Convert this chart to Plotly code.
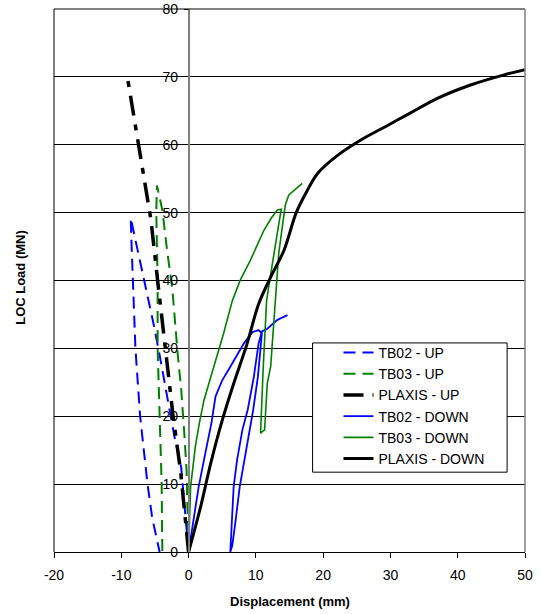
import plotly.graph_objects as go

# ---------------- data ----------------
tb02_up_x = [0, -0.4, -1.1, -2.1, -3.0, -4.3, -5.2, -6.7, -7.5, -8.4, -8.6, -8.5, -8.3, -7.9, -7.2, -6.1, -5.4, -4.3]
tb02_up_y = [0, 5, 12.5, 17, 22, 29, 33.6, 40.5, 44, 48, 49.2, 46, 40, 30, 20, 10, 5, 0]

tb03_up_x = [0, -0.1, -0.3, -0.6, -1.1, -1.6, -2.4, -3.2, -3.9, -4.7, -4.8, -4.7, -4.6, -4.6, -4.3, -4.0, -3.9]
tb03_up_y = [0, 5, 12, 17, 24, 29, 38.6, 44.5, 50.4, 54, 50, 45, 40, 30, 20, 10, 0]

plaxis_up_x = [0, -0.6, -1.2, -2.3, -3.0, -3.9, -4.6, -5.6, -7.5, -9.1]
plaxis_up_y = [0, 6, 12, 20, 26, 33, 40, 49, 60, 70]

tb02_down_x = [0, 0.7, 1.5, 2.5, 3.4, 4.0, 5.0, 6.2, 8.2, 9.5, 10.4, 10.9,
               10.6, 10.3, 9.6, 9.1, 8.4, 7.6, 7.0, 6.5, 6.2,
               6.4, 6.7, 7.2, 8.0, 8.8, 9.7, 10.4, 10.9, 11.7, 13.2, 14.7]
tb02_down_y = [0, 4.7, 9.6, 14.6, 19, 22.9, 25.3, 27.3, 30.7, 32.4, 32.7, 32.2,
               28.5, 25.8, 20.9, 18, 14.5, 9.6, 4.7, 1, 0,
               4.7, 9.6, 13.5, 18, 21, 25.8, 30.7, 32.5, 32.9, 34.2, 34.9]

tb03_down_x = [0, 0.3, 1.0, 1.6, 2.3, 3.8, 5.2, 6.5, 7.7, 9.2, 10.7, 11.2, 12.3, 13.2, 13.8,
               13.6, 12.7, 11.9, 11.6, 11.1, 10.8, 10.7,
               11.3, 11.7, 12.2, 12.9, 13.4, 14.2, 14.4, 14.9, 16.9]
tb03_down_y = [0, 9.6, 15.5, 19, 22.4, 27.3, 32.2, 37, 40.1, 43, 46.2, 47.4, 49.2, 50.4, 50.5,
               49.5, 44, 39.1, 37.1, 27.3, 18, 17.5,
               18, 24.9, 27.3, 37.1, 44, 49.9, 51.2, 52.6, 54.3]

plaxis_down_x = [0, 1.8, 3.3, 5.0, 6.7, 8.7, 10.4, 12.2, 14.2, 16.0, 17.5, 19.2, 22.1, 25.6,
                 29.5, 33.0, 36.9, 41.9, 46.9, 50.2]
plaxis_down_y = [0, 6.7, 13.1, 19.4, 24.8, 30.7, 36.5, 40.5, 44.5, 50, 53, 55.8, 58.4, 60.7,
                 62.8, 64.7, 66.8, 68.8, 70.3, 71.1]

x_ticks = [-20, -10, 0, 10, 20, 30, 40, 50]
x_tick_labels = ["-20", "-10", "0", "10", "20", "30", "40", "50"]
y_ticks = [0, 10, 20, 30, 40, 50, 60, 70, 80]

BLUE = "#0000FF"
GREEN = "#008000"
BLACK = "#000000"
FONT = "Liberation Sans, Arial, sans-serif"

fig = go.Figure()

series = [
    ("TB02 - UP", tb02_up_x, tb02_up_y, BLUE, 2, "12px,7px"),
    ("TB03 - UP", tb03_up_x, tb03_up_y, GREEN, 2, "12px,7px"),
    ("PLAXIS - UP", plaxis_up_x, plaxis_up_y, BLACK, 3.5, "20px,9px,6px,9px"),
    ("TB02 - DOWN", tb02_down_x, tb02_down_y, BLUE, 1.8, "solid"),
    ("TB03 - DOWN", tb03_down_x, tb03_down_y, GREEN, 1.6, "solid"),
    ("PLAXIS - DOWN", plaxis_down_x, plaxis_down_y, BLACK, 3, "solid"),
]
for i, (name, xs, ys, col, w, dash) in enumerate(series):
    fig.add_trace(go.Scatter(
        x=xs, y=ys, name=name, mode="lines", legendgroup=f"g{i}",
        line=dict(color=col, width=w, dash=dash,
                  shape="spline" if name == "PLAXIS - DOWN" else "linear"),
    ))

fig.update_layout(
    width=541, height=614,
    margin=dict(l=53.5, r=16, t=9.3, b=62, autoexpand=False),
    paper_bgcolor="white", plot_bgcolor="white",
    font=dict(family=FONT, size=14, color="black"),
    showlegend=True,
    legend=dict(x=0.604, y=0.396, xanchor="left", yanchor="top",
                bgcolor="rgba(0,0,0,0)", borderwidth=0,
                font=dict(family=FONT, size=14, color="black"),
                tracegroupgap=0),
    xaxis=dict(range=[-20, 50], tickvals=x_ticks, ticktext=x_tick_labels,
               showgrid=False, zeroline=False, automargin=False,
               showline=True, linecolor="black", linewidth=1,
               ticks="outside", ticklen=5, tickcolor="black",
               ticklabelstandoff=5, tickfont=dict(size=14)),
    yaxis=dict(range=[0, 80], tickvals=y_ticks, showgrid=True, gridcolor="black",
               gridwidth=1, zeroline=False, anchor="free", position=20 / 70,
               automargin=False,
               showline=True, linecolor="#808080", linewidth=1.5,
               ticks="outside", ticklen=4, tickcolor="black",
               ticklabelstandoff=3, tickfont=dict(size=14)),
    shapes=[
        dict(type="line", xref="paper", yref="paper", x0=0, x1=0, y0=0, y1=1,
             line=dict(color="black", width=1)),
        dict(type="line", xref="paper", yref="paper", x0=0, x1=1, y0=1, y1=1,
             line=dict(color="black", width=1)),
        dict(type="line", xref="paper", yref="paper", x0=1, x1=1, y0=0, y1=1,
             line=dict(color="#808080", width=1.5)),
        dict(type="rect", xref="paper", yref="paper", x0=0.549, x1=0.962,
             y0=0.147, y1=0.385, layer="above",
             line=dict(color="black", width=1), fillcolor="white"),
    ],
    annotations=[
        dict(text="<b>Displacement (mm)</b>", xref="paper", yref="paper",
             x=0.5, y=-0.092, xanchor="center", yanchor="middle",
             showarrow=False, font=dict(family=FONT, size=13)),
        dict(text="<b>LOC Load (MN)</b>", xref="paper", yref="paper",
             x=-0.07, y=0.505, xanchor="center", yanchor="middle", textangle=-90,
             showarrow=False, font=dict(family=FONT, size=13)),
    ],
)

# remove the default 8px page margin so the 541x614 figure fills the window
fig.write_html("out.html", config={"displayModeBar": False},
               post_script="document.body.style.margin='0';document.body.style.overflow='hidden';")
